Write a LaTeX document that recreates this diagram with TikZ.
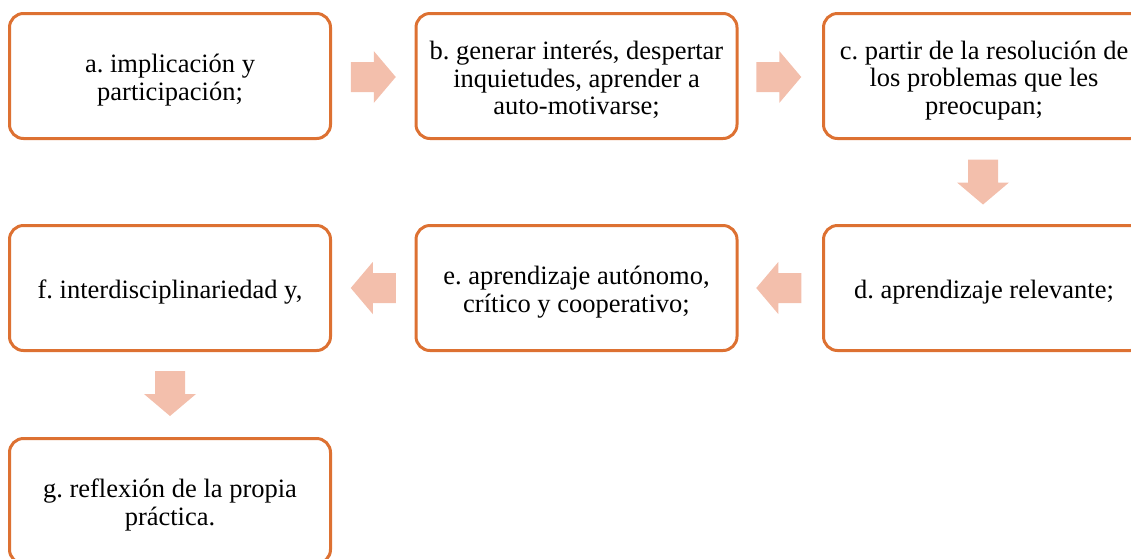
\documentclass[tikz,border=0pt]{standalone}
\usepackage{fontspec}
\setmainfont{Liberation Serif}
\usetikzlibrary{calc}
\definecolor{boxline}{HTML}{DD7132}
\definecolor{arrowc}{HTML}{F3BFAC}
\newcommand\topstrut{\rule{0pt}{27pt}}
\tikzset{
  stepbox/.style={draw=boxline, line width=3pt, rounded corners=14pt, fill=white,
    minimum width=321pt, minimum height=125pt, inner sep=0pt,
    align=center, font=\fontsize{26.5pt}{27.5pt}\selectfont},
  flowfill/.style={fill=arrowc, draw=none}
}
\newcommand\flowarrow[2]{%
  \fill[flowfill, shift={(#1)}, rotate=#2]
    (-22.5,-15) -- (0.5,-15) -- (0.5,-26) -- (22.5,0) -- (0.5,26) -- (0.5,15) -- (-22.5,15) -- cycle;}
\begin{document}
\frenchspacing
\begin{tikzpicture}[x=1pt,y=1pt]
\useasboundingbox (0,0) rectangle (1131,-558);
\clip (0,0) rectangle (1131,-558);
\node[stepbox] (a) at (170,-76) {\topstrut a. implicación y\\participación;};
\node[stepbox] (b) at (576.5,-76) {\topstrut b. generar interés, despertar\\inquietudes, aprender a\\auto-motivarse;};
\node[stepbox] (c) at (984,-76) {\topstrut c. partir de la resolución de\\los problemas que les\\preocupan;};
\node[stepbox] (d) at (984,-288) {\topstrut d. aprendizaje relevante;};
\node[stepbox] (e) at (576.5,-288) {\topstrut e. aprendizaje autónomo,\\crítico y cooperativo;};
\node[stepbox] (f) at (170,-288) {\topstrut f. interdisciplinariedad y,};
\node[stepbox] (g) at (170,-501) {\topstrut g. reflexión de la propia\\práctica.};
\coordinate (ab) at ($(a.east)!0.5!(b.west)+(0,-1)$);
\coordinate (bc) at ($(b.east)!0.5!(c.west)+(-1.5,-1)$);
\coordinate (cd) at ($(c.south)!0.5!(d.north)+(-1,0)$);
\coordinate (de) at ($(d.west)!0.5!(e.east)+(-1.5,0)$);
\coordinate (ef) at ($(e.west)!0.5!(f.east)$);
\coordinate (fg) at ($(f.south)!0.5!(g.north)+(0,1)$);
\flowarrow{ab}{0}
\flowarrow{bc}{0}
\flowarrow{cd}{-90}
\flowarrow{de}{180}
\flowarrow{ef}{180}
\flowarrow{fg}{-90}
\end{tikzpicture}
\end{document}
